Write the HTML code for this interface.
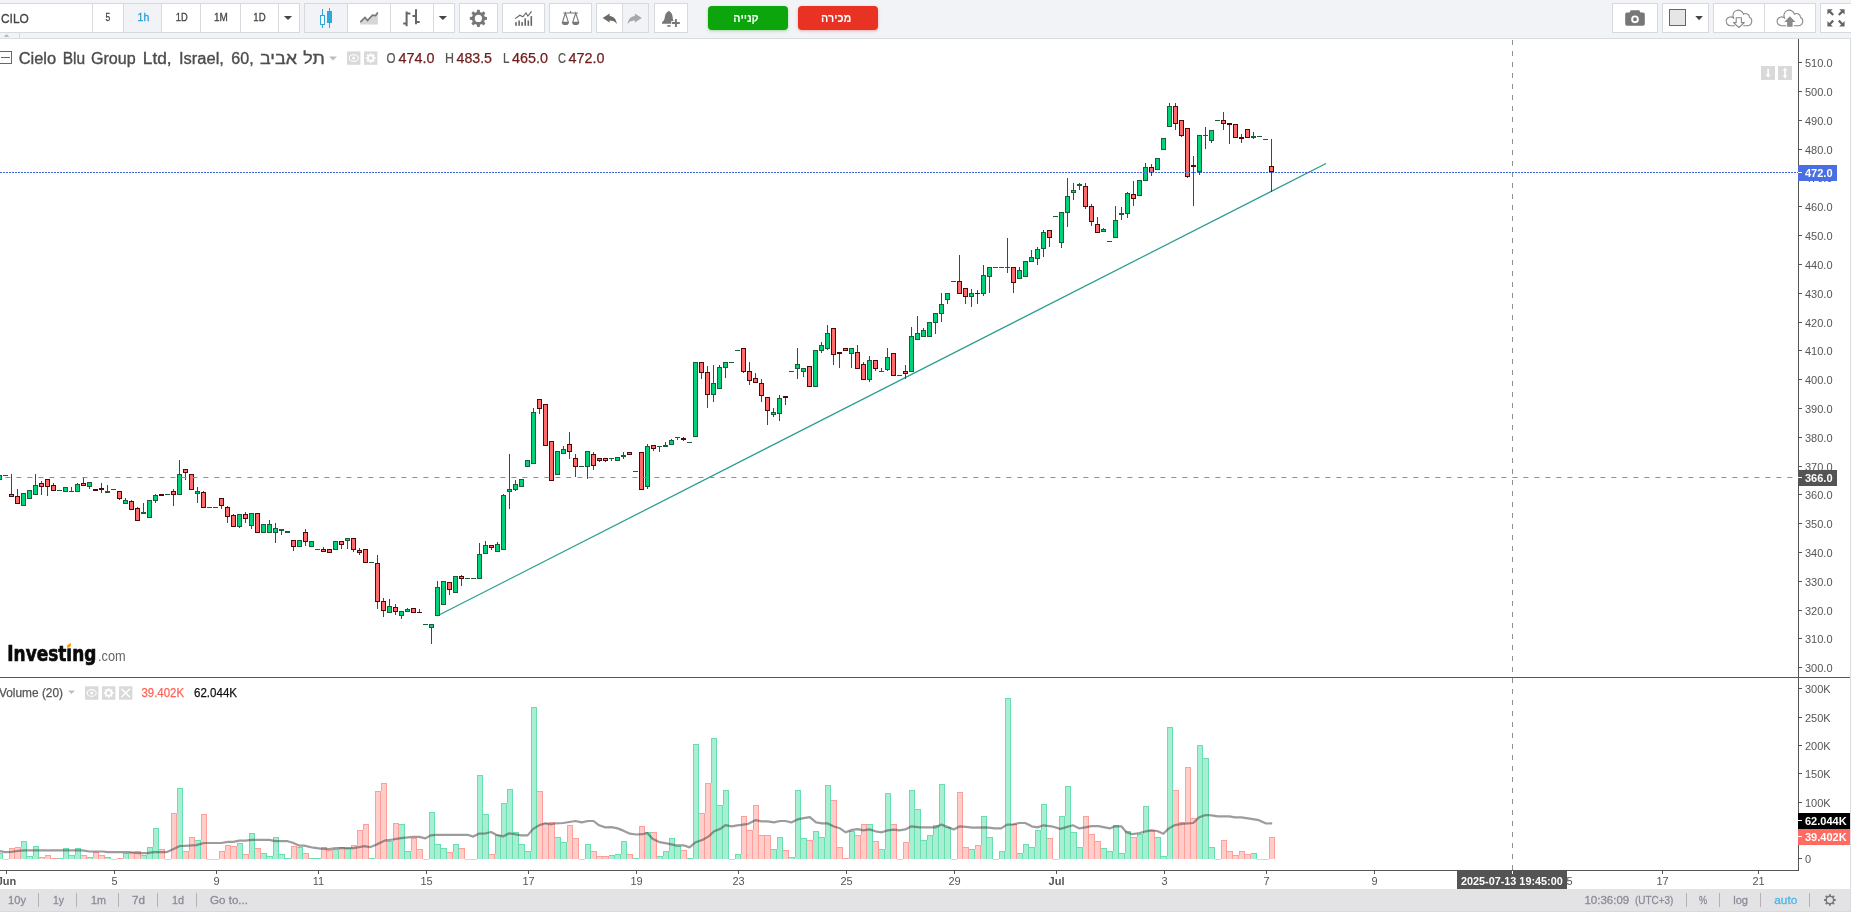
<!DOCTYPE html>
<html lang="he"><head><meta charset="utf-8"><title>CILO</title>
<style>
html,body{margin:0;padding:0;width:1851px;height:912px;overflow:hidden;background:#fff;font-family:"Liberation Sans","DejaVu Sans",sans-serif;}
*{box-sizing:border-box}
.abs{position:absolute}
#tb{position:absolute;left:0;top:0;width:1851px;height:39px;background:#f1f3f6;border-bottom:1px solid #d9dce1}
.btn{position:absolute;top:3px;height:30px;background:#fff;border:1px solid #d6d9de;font-size:12px;color:#4a4a4a;text-align:center;line-height:27px}
.btn.sel{background:#f1f3f6}
.btn svg{position:absolute;left:0;top:0}
.lbl{position:absolute;white-space:nowrap}
#bb{position:absolute;left:0;top:889px;width:1851px;height:23px;background:#e3e3e5}
#bb span{position:absolute;top:4px;font-size:12px;color:#8b8b99;white-space:nowrap;line-height:14px}
#bb i{position:absolute;top:4px;width:1px;height:14px;background:#b2b2b8}
.ib{position:absolute;background:#d9d9d9}
</style></head><body>
<svg width="1851" height="912" viewBox="0 0 1851 912" style="position:absolute;left:0;top:0;will-change:transform" shape-rendering="crispEdges">
<!--AXES-->
<rect x="1798" y="39" width="1" height="832" fill="#555"/>
<rect x="0" y="677" width="1850" height="1" fill="#555"/>
<rect x="0" y="870" width="1799" height="1" fill="#555"/>
<rect x="1850" y="39" width="1" height="850" fill="#d9dce1"/>
<path d="M1799 62h3v1h-3zM1799 91h3v1h-3zM1799 120h3v1h-3zM1799 149h3v1h-3zM1799 177h3v1h-3zM1799 206h3v1h-3zM1799 235h3v1h-3zM1799 264h3v1h-3zM1799 293h3v1h-3zM1799 322h3v1h-3zM1799 350h3v1h-3zM1799 379h3v1h-3zM1799 408h3v1h-3zM1799 437h3v1h-3zM1799 466h3v1h-3zM1799 494h3v1h-3zM1799 523h3v1h-3zM1799 552h3v1h-3zM1799 581h3v1h-3zM1799 610h3v1h-3zM1799 638h3v1h-3zM1799 667h3v1h-3zM1799 688h3v1h-3zM1799 717h3v1h-3zM1799 745h3v1h-3zM1799 773h3v1h-3zM1799 802h3v1h-3zM1799 858h3v1h-3z" fill="#555"/>
<g font-family="Liberation Sans, sans-serif" font-size="11" fill="#555" shape-rendering="auto"><text x="1805" y="66.5">510.0</text><text x="1805" y="95.5">500.0</text><text x="1805" y="124.5">490.0</text><text x="1805" y="153.5">480.0</text><text x="1805" y="181.5">470.0</text><text x="1805" y="210.5">460.0</text><text x="1805" y="239.5">450.0</text><text x="1805" y="268.5">440.0</text><text x="1805" y="297.5">430.0</text><text x="1805" y="326.5">420.0</text><text x="1805" y="354.5">410.0</text><text x="1805" y="383.5">400.0</text><text x="1805" y="412.5">390.0</text><text x="1805" y="441.5">380.0</text><text x="1805" y="470.5">370.0</text><text x="1805" y="498.5">360.0</text><text x="1805" y="527.5">350.0</text><text x="1805" y="556.5">340.0</text><text x="1805" y="585.5">330.0</text><text x="1805" y="614.5">320.0</text><text x="1805" y="642.5">310.0</text><text x="1805" y="671.5">300.0</text><text x="1805" y="692.5">300K</text><text x="1805" y="721.5">250K</text><text x="1805" y="749.5">200K</text><text x="1805" y="777.5">150K</text><text x="1805" y="806.5">100K</text><text x="1805" y="862.5">0</text></g>
<path d="M6 871h1v3h-1zM114 871h1v3h-1zM216 871h1v3h-1zM318 871h1v3h-1zM426 871h1v3h-1zM528 871h1v3h-1zM636 871h1v3h-1zM738 871h1v3h-1zM846 871h1v3h-1zM954 871h1v3h-1zM1056 871h1v3h-1zM1164 871h1v3h-1zM1266 871h1v3h-1zM1374 871h1v3h-1zM1470 871h1v3h-1zM1566 871h1v3h-1zM1662 871h1v3h-1zM1758 871h1v3h-1z" fill="#555"/>
<g font-family="Liberation Sans, sans-serif" font-size="11" fill="#555" shape-rendering="auto"><text x="6.5" y="885" text-anchor="middle" font-weight="bold">Jun</text><text x="114.5" y="885" text-anchor="middle">5</text><text x="216.5" y="885" text-anchor="middle">9</text><text x="318.5" y="885" text-anchor="middle">11</text><text x="426.5" y="885" text-anchor="middle">15</text><text x="528.5" y="885" text-anchor="middle">17</text><text x="636.5" y="885" text-anchor="middle">19</text><text x="738.5" y="885" text-anchor="middle">23</text><text x="846.5" y="885" text-anchor="middle">25</text><text x="954.5" y="885" text-anchor="middle">29</text><text x="1056.5" y="885" text-anchor="middle" font-weight="bold">Jul</text><text x="1164.5" y="885" text-anchor="middle">3</text><text x="1266.5" y="885" text-anchor="middle">7</text><text x="1374.5" y="885" text-anchor="middle">9</text><text x="1470.5" y="885" text-anchor="middle">13</text><text x="1566.5" y="885" text-anchor="middle">15</text><text x="1662.5" y="885" text-anchor="middle">17</text><text x="1758.5" y="885" text-anchor="middle">21</text></g>
<path d="M437 616L1326 163.5" stroke="#2a9d8f" stroke-width="1.25" fill="none" shape-rendering="auto"/>
<path d="M-3 853h6v6h-6zM3 859h6v1h-6zM21 841h6v18h-6zM27 856h6v3h-6zM33 846h6v13h-6zM57 858h6v1h-6zM63 848h6v11h-6zM69 855h6v4h-6zM75 848h6v11h-6zM87 857h6v2h-6zM105 857h6v2h-6zM111 859h6v1h-6zM123 853h6v6h-6zM141 855h6v4h-6zM147 847h6v12h-6zM153 828h6v31h-6zM165 859h6v1h-6zM177 788h6v71h-6zM195 840h6v19h-6zM207 859h6v1h-6zM213 859h6v1h-6zM237 843h6v16h-6zM249 833h6v26h-6zM261 853h6v6h-6zM267 856h6v3h-6zM273 837h6v22h-6zM279 854h6v5h-6zM285 858h6v1h-6zM297 847h6v12h-6zM309 858h6v1h-6zM315 858h6v1h-6zM333 849h6v10h-6zM345 848h6v11h-6zM369 858h6v1h-6zM387 841h6v18h-6zM399 824h6v35h-6zM405 851h6v8h-6zM423 859h6v1h-6zM429 812h6v47h-6zM435 844h6v15h-6zM441 848h6v11h-6zM453 844h6v15h-6zM465 859h6v1h-6zM471 859h6v1h-6zM477 775h6v84h-6zM483 814h6v45h-6zM495 835h6v24h-6zM501 803h6v56h-6zM507 789h6v70h-6zM513 832h6v27h-6zM519 844h6v15h-6zM525 851h6v8h-6zM531 707h6v152h-6zM555 837h6v22h-6zM561 842h6v17h-6zM579 859h6v1h-6zM585 844h6v15h-6zM609 855h6v4h-6zM615 854h6v5h-6zM621 841h6v18h-6zM633 858h6v1h-6zM645 832h6v27h-6zM657 856h6v3h-6zM663 851h6v8h-6zM669 838h6v21h-6zM675 846h6v13h-6zM687 858h6v1h-6zM693 744h6v115h-6zM711 738h6v121h-6zM717 805h6v54h-6zM723 790h6v69h-6zM729 859h6v1h-6zM735 854h6v5h-6zM771 849h6v10h-6zM777 837h6v22h-6zM789 857h6v2h-6zM795 790h6v69h-6zM801 838h6v21h-6zM813 831h6v28h-6zM819 837h6v22h-6zM825 785h6v74h-6zM849 831h6v28h-6zM867 824h6v35h-6zM879 849h6v10h-6zM885 793h6v66h-6zM897 859h6v1h-6zM909 790h6v69h-6zM915 809h6v50h-6zM921 840h6v19h-6zM927 835h6v24h-6zM933 825h6v34h-6zM939 784h6v75h-6zM945 827h6v32h-6zM951 859h6v1h-6zM969 849h6v10h-6zM981 816h6v43h-6zM987 837h6v22h-6zM993 859h6v1h-6zM999 851h6v8h-6zM1005 698h6v161h-6zM1017 853h6v6h-6zM1023 844h6v15h-6zM1029 847h6v12h-6zM1035 830h6v29h-6zM1041 804h6v55h-6zM1053 859h6v1h-6zM1059 816h6v43h-6zM1065 786h6v73h-6zM1071 832h6v27h-6zM1077 847h6v12h-6zM1101 848h6v11h-6zM1107 851h6v8h-6zM1113 825h6v34h-6zM1119 853h6v6h-6zM1125 831h6v28h-6zM1137 834h6v25h-6zM1143 806h6v53h-6zM1155 837h6v22h-6zM1161 856h6v3h-6zM1167 727h6v132h-6zM1197 745h6v114h-6zM1203 758h6v101h-6zM1209 847h6v12h-6zM1215 859h6v1h-6zM1251 853h6v6h-6zM1257 859h6v1h-6zM1263 859h6v1h-6z" fill="#a8eed2"/>
<path d="M9 848h6v11h-6zM15 847h6v12h-6zM39 857h6v2h-6zM45 855h6v4h-6zM51 858h6v1h-6zM81 855h6v4h-6zM93 852h6v7h-6zM99 855h6v4h-6zM117 858h6v1h-6zM129 852h6v7h-6zM135 851h6v8h-6zM159 849h6v10h-6zM171 813h6v46h-6zM183 851h6v8h-6zM189 837h6v22h-6zM201 814h6v45h-6zM219 851h6v8h-6zM225 845h6v14h-6zM231 846h6v13h-6zM243 854h6v5h-6zM255 848h6v11h-6zM291 846h6v13h-6zM303 853h6v6h-6zM321 847h6v12h-6zM327 850h6v9h-6zM339 847h6v12h-6zM351 845h6v14h-6zM357 830h6v29h-6zM363 824h6v35h-6zM375 791h6v68h-6zM381 783h6v76h-6zM393 823h6v36h-6zM411 838h6v21h-6zM417 849h6v10h-6zM447 852h6v7h-6zM459 848h6v11h-6zM489 854h6v5h-6zM537 791h6v68h-6zM543 823h6v36h-6zM549 822h6v37h-6zM567 825h6v34h-6zM573 838h6v21h-6zM591 851h6v8h-6zM597 856h6v3h-6zM603 856h6v3h-6zM627 854h6v5h-6zM639 826h6v33h-6zM651 832h6v27h-6zM681 850h6v9h-6zM699 813h6v46h-6zM705 783h6v76h-6zM741 816h6v43h-6zM747 830h6v29h-6zM753 805h6v54h-6zM759 835h6v24h-6zM765 835h6v24h-6zM783 850h6v9h-6zM807 840h6v19h-6zM831 800h6v59h-6zM837 847h6v12h-6zM843 858h6v1h-6zM855 835h6v24h-6zM861 824h6v35h-6zM873 841h6v18h-6zM891 824h6v35h-6zM903 842h6v17h-6zM957 792h6v67h-6zM963 847h6v12h-6zM975 845h6v14h-6zM1011 824h6v35h-6zM1047 838h6v21h-6zM1083 816h6v43h-6zM1089 834h6v25h-6zM1095 841h6v18h-6zM1131 837h6v22h-6zM1149 830h6v29h-6zM1173 790h6v69h-6zM1179 822h6v37h-6zM1185 767h6v92h-6zM1191 818h6v41h-6zM1221 840h6v19h-6zM1227 851h6v8h-6zM1233 855h6v4h-6zM1239 851h6v8h-6zM1245 854h6v5h-6zM1269 837h6v22h-6z" fill="#ffcdca"/>
<path d="M-3 853h6v1h-6zM2 854h1v5h-1zM-3 854h1v5h-1zM21 841h6v1h-6zM26 842h1v17h-1zM21 842h1v5h-1zM27 856h6v1h-6zM32 857h1v2h-1zM33 846h6v1h-6zM38 847h1v12h-1zM33 847h1v9h-1zM57 858h6v1h-6zM63 848h6v1h-6zM68 849h1v10h-1zM63 849h1v9h-1zM69 855h6v1h-6zM74 856h1v3h-1zM75 848h6v1h-6zM80 849h1v10h-1zM75 849h1v6h-1zM87 857h6v1h-6zM92 858h1v1h-1zM105 857h6v1h-6zM110 858h1v1h-1zM123 853h6v1h-6zM128 854h1v5h-1zM123 854h1v4h-1zM141 855h6v1h-6zM146 856h1v3h-1zM147 847h6v1h-6zM152 848h1v11h-1zM147 848h1v7h-1zM153 828h6v1h-6zM158 829h1v30h-1zM153 829h1v18h-1zM177 788h6v1h-6zM182 789h1v70h-1zM177 789h1v24h-1zM195 840h6v1h-6zM200 841h1v18h-1zM237 843h6v1h-6zM242 844h1v15h-1zM237 844h1v2h-1zM249 833h6v1h-6zM254 834h1v25h-1zM249 834h1v20h-1zM261 853h6v1h-6zM266 854h1v5h-1zM267 856h6v1h-6zM272 857h1v2h-1zM273 837h6v1h-6zM278 838h1v21h-1zM273 838h1v18h-1zM279 854h6v1h-6zM284 855h1v4h-1zM285 858h6v1h-6zM297 847h6v1h-6zM302 848h1v11h-1zM309 858h6v1h-6zM315 858h6v1h-6zM333 849h6v1h-6zM338 850h1v9h-1zM345 848h6v1h-6zM350 849h1v10h-1zM369 858h6v1h-6zM387 841h6v1h-6zM392 842h1v17h-1zM399 824h6v1h-6zM404 825h1v34h-1zM405 851h6v1h-6zM410 852h1v7h-1zM429 812h6v1h-6zM434 813h1v46h-1zM429 813h1v46h-1zM435 844h6v1h-6zM440 845h1v14h-1zM441 848h6v1h-6zM446 849h1v10h-1zM453 844h6v1h-6zM458 845h1v14h-1zM453 845h1v7h-1zM477 775h6v1h-6zM482 776h1v83h-1zM477 776h1v83h-1zM483 814h6v1h-6zM488 815h1v44h-1zM495 835h6v1h-6zM500 836h1v23h-1zM495 836h1v18h-1zM501 803h6v1h-6zM506 804h1v55h-1zM501 804h1v31h-1zM507 789h6v1h-6zM512 790h1v69h-1zM507 790h1v13h-1zM513 832h6v1h-6zM518 833h1v26h-1zM519 844h6v1h-6zM524 845h1v14h-1zM525 851h6v1h-6zM530 852h1v7h-1zM531 707h6v1h-6zM536 708h1v151h-1zM531 708h1v143h-1zM555 837h6v1h-6zM560 838h1v21h-1zM561 842h6v1h-6zM566 843h1v16h-1zM585 844h6v1h-6zM590 845h1v14h-1zM585 845h1v14h-1zM609 855h6v1h-6zM614 856h1v3h-1zM615 854h6v1h-6zM620 855h1v4h-1zM621 841h6v1h-6zM626 842h1v17h-1zM621 842h1v12h-1zM633 858h6v1h-6zM645 832h6v1h-6zM650 833h1v26h-1zM657 856h6v1h-6zM662 857h1v2h-1zM663 851h6v1h-6zM668 852h1v7h-1zM663 852h1v4h-1zM669 838h6v1h-6zM674 839h1v20h-1zM669 839h1v12h-1zM675 846h6v1h-6zM680 847h1v12h-1zM687 858h6v1h-6zM693 744h6v1h-6zM698 745h1v114h-1zM693 745h1v113h-1zM711 738h6v1h-6zM716 739h1v120h-1zM711 739h1v44h-1zM717 805h6v1h-6zM722 806h1v53h-1zM723 790h6v1h-6zM728 791h1v68h-1zM723 791h1v14h-1zM735 854h6v1h-6zM740 855h1v4h-1zM735 855h1v4h-1zM771 849h6v1h-6zM776 850h1v9h-1zM777 837h6v1h-6zM782 838h1v21h-1zM777 838h1v11h-1zM789 857h6v1h-6zM794 858h1v1h-1zM795 790h6v1h-6zM800 791h1v68h-1zM795 791h1v66h-1zM801 838h6v1h-6zM806 839h1v20h-1zM813 831h6v1h-6zM818 832h1v27h-1zM813 832h1v8h-1zM819 837h6v1h-6zM824 838h1v21h-1zM825 785h6v1h-6zM830 786h1v73h-1zM825 786h1v51h-1zM849 831h6v1h-6zM854 832h1v27h-1zM849 832h1v26h-1zM867 824h6v1h-6zM872 825h1v34h-1zM879 849h6v1h-6zM884 850h1v9h-1zM885 793h6v1h-6zM890 794h1v65h-1zM885 794h1v55h-1zM909 790h6v1h-6zM914 791h1v68h-1zM909 791h1v51h-1zM915 809h6v1h-6zM920 810h1v49h-1zM921 840h6v1h-6zM926 841h1v18h-1zM927 835h6v1h-6zM932 836h1v23h-1zM927 836h1v4h-1zM933 825h6v1h-6zM938 826h1v33h-1zM933 826h1v9h-1zM939 784h6v1h-6zM944 785h1v74h-1zM939 785h1v40h-1zM945 827h6v1h-6zM950 828h1v31h-1zM969 849h6v1h-6zM974 850h1v9h-1zM981 816h6v1h-6zM986 817h1v42h-1zM981 817h1v28h-1zM987 837h6v1h-6zM992 838h1v21h-1zM999 851h6v1h-6zM1004 852h1v7h-1zM999 852h1v7h-1zM1005 698h6v1h-6zM1010 699h1v160h-1zM1005 699h1v152h-1zM1017 853h6v1h-6zM1022 854h1v5h-1zM1023 844h6v1h-6zM1028 845h1v14h-1zM1023 845h1v8h-1zM1029 847h6v1h-6zM1034 848h1v11h-1zM1035 830h6v1h-6zM1040 831h1v28h-1zM1035 831h1v16h-1zM1041 804h6v1h-6zM1046 805h1v54h-1zM1041 805h1v25h-1zM1059 816h6v1h-6zM1064 817h1v42h-1zM1059 817h1v42h-1zM1065 786h6v1h-6zM1070 787h1v72h-1zM1065 787h1v29h-1zM1071 832h6v1h-6zM1076 833h1v26h-1zM1077 847h6v1h-6zM1082 848h1v11h-1zM1101 848h6v1h-6zM1106 849h1v10h-1zM1107 851h6v1h-6zM1112 852h1v7h-1zM1113 825h6v1h-6zM1118 826h1v33h-1zM1113 826h1v25h-1zM1119 853h6v1h-6zM1124 854h1v5h-1zM1125 831h6v1h-6zM1130 832h1v27h-1zM1125 832h1v21h-1zM1137 834h6v1h-6zM1142 835h1v24h-1zM1137 835h1v2h-1zM1143 806h6v1h-6zM1148 807h1v52h-1zM1143 807h1v27h-1zM1155 837h6v1h-6zM1160 838h1v21h-1zM1161 856h6v1h-6zM1166 857h1v2h-1zM1167 727h6v1h-6zM1172 728h1v131h-1zM1167 728h1v128h-1zM1197 745h6v1h-6zM1202 746h1v113h-1zM1197 746h1v72h-1zM1203 758h6v1h-6zM1208 759h1v100h-1zM1209 847h6v1h-6zM1214 848h1v11h-1zM1251 853h6v1h-6zM1256 854h1v5h-1z" fill="#68dfae"/>
<path d="M9 848h6v1h-6zM14 849h1v10h-1zM9 849h1v10h-1zM15 847h6v1h-6zM20 848h1v11h-1zM39 857h6v1h-6zM44 858h1v1h-1zM45 855h6v1h-6zM50 856h1v3h-1zM45 856h1v1h-1zM51 858h6v1h-6zM81 855h6v1h-6zM86 856h1v3h-1zM93 852h6v1h-6zM98 853h1v6h-1zM93 853h1v4h-1zM99 855h6v1h-6zM104 856h1v3h-1zM117 858h6v1h-6zM129 852h6v1h-6zM134 853h1v6h-1zM135 851h6v1h-6zM140 852h1v7h-1zM159 849h6v1h-6zM164 850h1v9h-1zM171 813h6v1h-6zM176 814h1v45h-1zM171 814h1v45h-1zM183 851h6v1h-6zM188 852h1v7h-1zM189 837h6v1h-6zM194 838h1v21h-1zM189 838h1v13h-1zM201 814h6v1h-6zM206 815h1v44h-1zM201 815h1v25h-1zM219 851h6v1h-6zM224 852h1v7h-1zM219 852h1v7h-1zM225 845h6v1h-6zM230 846h1v13h-1zM225 846h1v5h-1zM231 846h6v1h-6zM236 847h1v12h-1zM243 854h6v1h-6zM248 855h1v4h-1zM255 848h6v1h-6zM260 849h1v10h-1zM291 846h6v1h-6zM296 847h1v12h-1zM291 847h1v11h-1zM303 853h6v1h-6zM308 854h1v5h-1zM321 847h6v1h-6zM326 848h1v11h-1zM321 848h1v10h-1zM327 850h6v1h-6zM332 851h1v8h-1zM339 847h6v1h-6zM344 848h1v11h-1zM339 848h1v1h-1zM351 845h6v1h-6zM356 846h1v13h-1zM351 846h1v2h-1zM357 830h6v1h-6zM362 831h1v28h-1zM357 831h1v14h-1zM363 824h6v1h-6zM368 825h1v34h-1zM363 825h1v5h-1zM375 791h6v1h-6zM380 792h1v67h-1zM375 792h1v66h-1zM381 783h6v1h-6zM386 784h1v75h-1zM381 784h1v7h-1zM393 823h6v1h-6zM398 824h1v35h-1zM393 824h1v17h-1zM411 838h6v1h-6zM416 839h1v20h-1zM411 839h1v12h-1zM417 849h6v1h-6zM422 850h1v9h-1zM447 852h6v1h-6zM452 853h1v6h-1zM459 848h6v1h-6zM464 849h1v10h-1zM489 854h6v1h-6zM494 855h1v4h-1zM537 791h6v1h-6zM542 792h1v67h-1zM543 823h6v1h-6zM548 824h1v35h-1zM549 822h6v1h-6zM554 823h1v36h-1zM567 825h6v1h-6zM572 826h1v33h-1zM567 826h1v16h-1zM573 838h6v1h-6zM578 839h1v20h-1zM591 851h6v1h-6zM596 852h1v7h-1zM597 856h6v1h-6zM602 857h1v2h-1zM603 856h6v1h-6zM608 857h1v2h-1zM627 854h6v1h-6zM632 855h1v4h-1zM639 826h6v1h-6zM644 827h1v32h-1zM639 827h1v31h-1zM651 832h6v1h-6zM656 833h1v26h-1zM681 850h6v1h-6zM686 851h1v8h-1zM699 813h6v1h-6zM704 814h1v45h-1zM705 783h6v1h-6zM710 784h1v75h-1zM705 784h1v29h-1zM741 816h6v1h-6zM746 817h1v42h-1zM741 817h1v37h-1zM747 830h6v1h-6zM752 831h1v28h-1zM753 805h6v1h-6zM758 806h1v53h-1zM753 806h1v24h-1zM759 835h6v1h-6zM764 836h1v23h-1zM765 835h6v1h-6zM770 836h1v23h-1zM783 850h6v1h-6zM788 851h1v8h-1zM807 840h6v1h-6zM812 841h1v18h-1zM831 800h6v1h-6zM836 801h1v58h-1zM837 847h6v1h-6zM842 848h1v11h-1zM843 858h6v1h-6zM855 835h6v1h-6zM860 836h1v23h-1zM861 824h6v1h-6zM866 825h1v34h-1zM861 825h1v10h-1zM873 841h6v1h-6zM878 842h1v17h-1zM891 824h6v1h-6zM896 825h1v34h-1zM903 842h6v1h-6zM908 843h1v16h-1zM903 843h1v16h-1zM957 792h6v1h-6zM962 793h1v66h-1zM957 793h1v66h-1zM963 847h6v1h-6zM968 848h1v11h-1zM975 845h6v1h-6zM980 846h1v13h-1zM975 846h1v3h-1zM1011 824h6v1h-6zM1016 825h1v34h-1zM1047 838h6v1h-6zM1052 839h1v20h-1zM1083 816h6v1h-6zM1088 817h1v42h-1zM1083 817h1v30h-1zM1089 834h6v1h-6zM1094 835h1v24h-1zM1095 841h6v1h-6zM1100 842h1v17h-1zM1131 837h6v1h-6zM1136 838h1v21h-1zM1149 830h6v1h-6zM1154 831h1v28h-1zM1173 790h6v1h-6zM1178 791h1v68h-1zM1179 822h6v1h-6zM1184 823h1v36h-1zM1185 767h6v1h-6zM1190 768h1v91h-1zM1185 768h1v54h-1zM1191 818h6v1h-6zM1196 819h1v40h-1zM1221 840h6v1h-6zM1226 841h1v18h-1zM1221 841h1v18h-1zM1227 851h6v1h-6zM1232 852h1v7h-1zM1233 855h6v1h-6zM1238 856h1v3h-1zM1239 851h6v1h-6zM1244 852h1v7h-1zM1239 852h1v3h-1zM1245 854h6v1h-6zM1250 855h1v4h-1zM1269 837h6v1h-6zM1274 838h1v21h-1zM1269 838h1v21h-1z" fill="#ff9f99"/>
<path d="M0.0 851.2 L5.1 852.2 L10.3 852.0 L20.5 850.7 L25.7 850.3 L82.1 850.3 L89.3 851.5 L102.7 851.5 L107.8 852.2 L128.3 852.2 L138.6 853.2 L146.8 853.2 L154.0 852.2 L166.3 852.2 L172.5 849.4 L179.7 846.0 L184.8 845.8 L196.3 845.1 L204.0 843.0 L220.9 843.0 L228.1 841.9 L233.3 841.9 L239.4 840.7 L245.6 840.7 L251.7 839.9 L269.2 839.9 L275.3 841.2 L287.7 841.2 L292.8 842.8 L299.0 845.6 L304.1 845.6 L313.3 847.7 L320.5 848.7 L328.7 849.1 L335.9 848.1 L353.4 848.1 L364.7 846.1 L369.8 847.2 L376.2 844.8 L384.4 840.7 L392.6 839.5 L400.8 838.1 L413.1 836.9 L419.3 836.9 L425.4 838.4 L430.6 835.4 L435.7 834.8 L467.5 834.8 L473.2 836.6 L478.8 833.7 L486.0 833.3 L491.1 832.0 L496.3 834.8 L503.0 836.4 L509.1 833.3 L513.7 834.0 L520.9 835.4 L527.6 835.4 L533.2 828.9 L539.4 825.1 L545.6 823.3 L551.7 824.3 L554.8 823.5 L563.2 823.0 L575.5 821.0 L581.7 822.4 L587.9 821.0 L593.5 821.0 L599.1 825.3 L605.3 827.4 L611.5 827.2 L617.6 828.4 L622.8 830.4 L629.9 833.7 L636.1 834.5 L642.3 834.2 L647.4 833.0 L652.5 838.7 L659.7 842.2 L667.9 843.6 L676.1 845.3 L683.3 845.3 L689.5 847.4 L695.7 842.2 L702.8 839.7 L709.0 836.1 L714.1 831.3 L720.3 828.9 L725.4 825.1 L731.6 826.3 L738.8 825.1 L740.0 825.1 L748.2 823.8 L755.4 820.2 L761.6 821.4 L767.7 821.4 L773.9 822.4 L780.0 821.0 L785.2 821.0 L791.3 822.4 L797.5 819.4 L803.7 818.1 L809.8 817.1 L816.0 822.4 L822.1 823.3 L827.3 823.3 L833.4 826.3 L839.6 828.2 L845.7 832.3 L851.9 829.9 L858.1 829.1 L863.2 830.4 L869.4 829.4 L875.5 831.3 L881.7 832.3 L887.8 830.4 L894.0 829.6 L899.1 830.4 L905.3 829.4 L911.5 826.3 L919.7 827.4 L924.8 827.4 L935.3 827.4 L941.4 824.6 L948.6 827.4 L953.7 829.4 L959.9 826.3 L966.1 826.8 L972.2 827.6 L986.6 827.4 L994.8 828.4 L1001.0 828.4 L1007.1 824.6 L1013.3 824.3 L1019.5 823.0 L1025.1 823.0 L1031.8 826.3 L1037.4 827.4 L1043.6 825.3 L1051.3 826.3 L1060.5 828.9 L1072.8 825.3 L1079.5 828.4 L1085.2 827.4 L1091.3 826.1 L1098.5 826.1 L1109.8 828.4 L1115.1 826.3 L1121.3 826.3 L1126.4 832.3 L1132.6 834.2 L1139.8 833.0 L1145.9 831.3 L1151.1 830.4 L1157.2 831.0 L1163.4 833.7 L1168.5 828.6 L1174.7 825.1 L1181.9 823.8 L1193.2 823.0 L1199.3 817.3 L1205.5 815.0 L1211.6 815.3 L1217.8 816.4 L1229.1 816.4 L1235.3 817.3 L1241.4 817.3 L1249.6 818.6 L1258.9 820.2 L1266.1 823.5 L1272.2 823.3" stroke="#4a4a4a" stroke-opacity="0.55" stroke-width="2.2" fill="none" stroke-linejoin="round" shape-rendering="auto"/>
<path d="M11.5 474V497M17.5 489V504M35.5 474V495M41.5 481V495M47.5 479V496M53.5 483V491M71.5 487V492M77.5 483V492M83.5 477V486M89.5 482V489M101.5 483V493M107.5 485V493M119.5 491V500M125.5 498V504M131.5 500V510M137.5 507V521M143.5 503V514M155.5 494V503M173.5 489V506M179.5 460V495M185.5 469V480M197.5 487V503M203.5 491V508M221.5 498V509M227.5 506V523M233.5 514V527M239.5 514V528M245.5 512V523M251.5 513V529M269.5 520V533M275.5 523V543M281.5 529V535M293.5 540V551M305.5 529V546M323.5 547V552M341.5 541V549M347.5 538V549M353.5 538V552M359.5 548V555M377.5 555V609M383.5 598V617M389.5 599V613M395.5 604V615M401.5 611V619M407.5 608V612M419.5 609V613M431.5 624V644M437.5 581V616M449.5 582V595M461.5 575V586M479.5 543V579M485.5 541V554M491.5 545V550M497.5 542V552M503.5 494V550M509.5 454V509M515.5 480V491M533.5 408V464M539.5 399V414M563.5 446V454M569.5 432V459M575.5 454V477M587.5 451V479M593.5 452V470M599.5 458V462M605.5 458V462M611.5 458V461M623.5 452V459M647.5 444V489M653.5 445V451M659.5 446V452M665.5 442V447M671.5 439V445M677.5 437V440M683.5 437V441M701.5 362V379M707.5 366V408M713.5 365V402M719.5 365V389M725.5 362V378M743.5 348V373M749.5 362V385M755.5 373V383M761.5 379V402M767.5 397V425M773.5 408V417M779.5 395V421M785.5 396V405M797.5 348V379M803.5 368V377M821.5 342V353M827.5 325V350M833.5 328V365M839.5 352V368M851.5 348V368M857.5 345V369M863.5 362V380M869.5 356V382M875.5 360V371M881.5 368V372M887.5 348V371M905.5 365V379M911.5 327V372M917.5 316V340M923.5 328V337M935.5 313V334M941.5 293V322M947.5 293V304M959.5 255V294M965.5 288V304M971.5 289V307M977.5 290V304M983.5 265V296M989.5 267V293M1007.5 238V273M1013.5 267V293M1019.5 267V279M1031.5 250V262M1037.5 247V265M1043.5 230V257M1049.5 230V247M1061.5 212V248M1067.5 178V227M1073.5 183V200M1079.5 183V190M1085.5 183V209M1091.5 204V226M1097.5 217V233M1103.5 228V232M1115.5 206V238M1121.5 207V220M1127.5 192V218M1133.5 181V206M1145.5 163V181M1151.5 164V176M1169.5 103V127M1175.5 103V130M1181.5 120V137M1187.5 128V178M1193.5 156V206M1199.5 135V175M1205.5 127V149M1211.5 130V143M1223.5 112V130M1229.5 123V144M1241.5 134V143M1253.5 132V139M1271.5 139V192" stroke="#1d5c38" stroke-width="1" fill="none"/>
<path d="M-3 475h5v5h-5zM3 475h5v1h-5zM21 493h5v13h-5zM27 490h5v9h-5zM33 485h5v10h-5zM57 490h5v1h-5zM63 487h5v5h-5zM69 491h5v1h-5zM75 484h5v8h-5zM87 482h5v5h-5zM105 491h5v2h-5zM111 489h5v1h-5zM123 500h5v4h-5zM141 512h5v2h-5zM147 500h5v18h-5zM153 495h5v6h-5zM165 494h5v1h-5zM177 474h5v21h-5zM195 491h5v3h-5zM207 507h5v1h-5zM213 507h5v1h-5zM237 514h5v13h-5zM249 513h5v13h-5zM261 524h5v9h-5zM267 524h5v9h-5zM273 528h5v5h-5zM279 529h5v2h-5zM285 531h5v2h-5zM297 540h5v7h-5zM309 541h5v6h-5zM315 549h5v1h-5zM333 541h5v9h-5zM345 538h5v3h-5zM369 562h5v1h-5zM387 606h5v7h-5zM399 611h5v5h-5zM405 609h5v3h-5zM423 624h5v1h-5zM429 624h5v4h-5zM435 587h5v29h-5zM441 581h5v24h-5zM453 576h5v17h-5zM465 578h5v1h-5zM471 578h5v1h-5zM477 554h5v25h-5zM483 545h5v9h-5zM495 544h5v8h-5zM501 495h5v55h-5zM507 489h5v3h-5zM513 484h5v6h-5zM519 479h5v8h-5zM525 460h5v7h-5zM531 412h5v52h-5zM555 451h5v24h-5zM561 449h5v5h-5zM579 466h5v1h-5zM585 451h5v16h-5zM609 458h5v1h-5zM615 457h5v4h-5zM621 455h5v2h-5zM633 471h5v1h-5zM645 446h5v41h-5zM657 446h5v1h-5zM663 445h5v2h-5zM669 440h5v5h-5zM675 437h5v1h-5zM687 442h5v1h-5zM693 362h5v75h-5zM711 383h5v12h-5zM717 367h5v22h-5zM723 362h5v6h-5zM729 362h5v1h-5zM735 350h5v1h-5zM771 412h5v3h-5zM777 398h5v16h-5zM789 371h5v1h-5zM795 364h5v5h-5zM801 368h5v4h-5zM813 350h5v37h-5zM819 345h5v6h-5zM825 333h5v16h-5zM849 348h5v6h-5zM867 360h5v20h-5zM879 371h5v1h-5zM885 357h5v13h-5zM897 375h5v1h-5zM909 336h5v36h-5zM915 333h5v7h-5zM921 330h5v7h-5zM927 322h5v15h-5zM933 313h5v10h-5zM939 304h5v10h-5zM945 293h5v7h-5zM951 281h5v1h-5zM969 293h5v4h-5zM981 275h5v19h-5zM987 267h5v10h-5zM993 267h5v1h-5zM999 267h5v1h-5zM1005 267h5v1h-5zM1017 270h5v9h-5zM1023 261h5v16h-5zM1029 257h5v5h-5zM1035 249h5v10h-5zM1041 232h5v17h-5zM1053 216h5v1h-5zM1059 212h5v31h-5zM1065 196h5v17h-5zM1071 190h5v3h-5zM1077 184h5v2h-5zM1101 229h5v3h-5zM1107 241h5v1h-5zM1113 220h5v18h-5zM1119 213h5v2h-5zM1125 193h5v21h-5zM1137 180h5v16h-5zM1143 167h5v14h-5zM1155 158h5v12h-5zM1161 138h5v12h-5zM1167 106h5v21h-5zM1197 135h5v37h-5zM1203 135h5v1h-5zM1209 130h5v11h-5zM1215 120h5v1h-5zM1251 136h5v2h-5zM1257 136h5v1h-5zM1263 139h5v1h-5z" fill="#1d5c38"/>
<path d="M9 494h5v3h-5zM15 496h5v8h-5zM39 483h5v4h-5zM45 479h5v8h-5zM51 485h5v6h-5zM81 483h5v3h-5zM93 489h5v2h-5zM99 488h5v2h-5zM117 491h5v8h-5zM129 501h5v9h-5zM135 508h5v13h-5zM159 494h5v2h-5zM171 491h5v4h-5zM183 469h5v4h-5zM189 474h5v16h-5zM201 492h5v16h-5zM219 498h5v8h-5zM225 507h5v10h-5zM231 515h5v12h-5zM243 514h5v5h-5zM255 513h5v20h-5zM291 540h5v7h-5zM303 532h5v10h-5zM321 549h5v3h-5zM327 549h5v4h-5zM339 541h5v4h-5zM351 538h5v12h-5zM357 550h5v3h-5zM363 549h5v14h-5zM375 563h5v39h-5zM381 601h5v10h-5zM393 607h5v5h-5zM411 608h5v5h-5zM417 612h5v1h-5zM447 582h5v8h-5zM459 576h5v3h-5zM489 545h5v3h-5zM537 399h5v10h-5zM543 404h5v42h-5zM549 441h5v40h-5zM567 444h5v8h-5zM573 458h5v9h-5zM591 454h5v12h-5zM597 458h5v3h-5zM603 458h5v3h-5zM627 452h5v3h-5zM639 452h5v38h-5zM651 445h5v4h-5zM681 438h5v2h-5zM699 362h5v11h-5zM705 372h5v23h-5zM741 348h5v24h-5zM747 371h5v10h-5zM753 378h5v5h-5zM759 383h5v13h-5zM765 397h5v14h-5zM783 396h5v2h-5zM807 366h5v21h-5zM831 328h5v27h-5zM837 352h5v2h-5zM843 348h5v3h-5zM855 352h5v17h-5zM861 364h5v16h-5zM873 360h5v9h-5zM891 353h5v23h-5zM903 371h5v3h-5zM957 281h5v13h-5zM963 288h5v9h-5zM975 293h5v1h-5zM1011 267h5v16h-5zM1047 230h5v8h-5zM1083 186h5v21h-5zM1089 206h5v16h-5zM1095 224h5v9h-5zM1131 194h5v5h-5zM1149 167h5v6h-5zM1173 106h5v18h-5zM1179 120h5v16h-5zM1185 128h5v49h-5zM1191 165h5v2h-5zM1221 120h5v4h-5zM1227 123h5v2h-5zM1233 124h5v14h-5zM1239 137h5v2h-5zM1245 129h5v9h-5zM1269 166h5v6h-5z" fill="#520808"/>
<path d="M-2 476h3v3h-3zM22 494h3v11h-3zM28 491h3v7h-3zM34 486h3v8h-3zM64 488h3v3h-3zM76 485h3v6h-3zM88 483h3v3h-3zM124 501h3v2h-3zM148 501h3v16h-3zM154 496h3v4h-3zM178 475h3v19h-3zM196 492h3v1h-3zM238 515h3v11h-3zM250 514h3v11h-3zM262 525h3v7h-3zM268 525h3v7h-3zM274 529h3v3h-3zM298 541h3v5h-3zM310 542h3v4h-3zM334 542h3v7h-3zM346 539h3v1h-3zM388 607h3v5h-3zM400 612h3v3h-3zM406 610h3v1h-3zM430 625h3v2h-3zM436 588h3v27h-3zM442 582h3v22h-3zM454 577h3v15h-3zM478 555h3v23h-3zM484 546h3v7h-3zM496 545h3v6h-3zM502 496h3v53h-3zM508 490h3v1h-3zM514 485h3v4h-3zM520 480h3v6h-3zM526 461h3v5h-3zM532 413h3v50h-3zM556 452h3v22h-3zM562 450h3v3h-3zM586 452h3v14h-3zM616 458h3v2h-3zM646 447h3v39h-3zM670 441h3v3h-3zM694 363h3v73h-3zM712 384h3v10h-3zM718 368h3v20h-3zM724 363h3v4h-3zM772 413h3v1h-3zM778 399h3v14h-3zM796 365h3v3h-3zM802 369h3v2h-3zM814 351h3v35h-3zM820 346h3v4h-3zM826 334h3v14h-3zM850 349h3v4h-3zM868 361h3v18h-3zM886 358h3v11h-3zM910 337h3v34h-3zM916 334h3v5h-3zM922 331h3v5h-3zM928 323h3v13h-3zM934 314h3v8h-3zM940 305h3v8h-3zM946 294h3v5h-3zM970 294h3v2h-3zM982 276h3v17h-3zM988 268h3v8h-3zM1018 271h3v7h-3zM1024 262h3v14h-3zM1030 258h3v3h-3zM1036 250h3v8h-3zM1042 233h3v15h-3zM1060 213h3v29h-3zM1066 197h3v15h-3zM1072 191h3v1h-3zM1102 230h3v1h-3zM1114 221h3v16h-3zM1126 194h3v19h-3zM1138 181h3v14h-3zM1144 168h3v12h-3zM1156 159h3v10h-3zM1162 139h3v10h-3zM1168 107h3v19h-3zM1198 136h3v35h-3zM1210 131h3v9h-3z" fill="#00d27a"/>
<path d="M10 495h3v1h-3zM16 497h3v6h-3zM40 484h3v2h-3zM46 480h3v6h-3zM52 486h3v4h-3zM82 484h3v1h-3zM118 492h3v6h-3zM130 502h3v7h-3zM136 509h3v11h-3zM172 492h3v2h-3zM184 470h3v2h-3zM190 475h3v14h-3zM202 493h3v14h-3zM220 499h3v6h-3zM226 508h3v8h-3zM232 516h3v10h-3zM244 515h3v3h-3zM256 514h3v18h-3zM292 541h3v5h-3zM304 533h3v8h-3zM322 550h3v1h-3zM328 550h3v2h-3zM340 542h3v2h-3zM352 539h3v10h-3zM358 551h3v1h-3zM364 550h3v12h-3zM376 564h3v37h-3zM382 602h3v8h-3zM394 608h3v3h-3zM412 609h3v3h-3zM448 583h3v6h-3zM460 577h3v1h-3zM490 546h3v1h-3zM538 400h3v8h-3zM544 405h3v40h-3zM550 442h3v38h-3zM568 445h3v6h-3zM574 459h3v7h-3zM592 455h3v10h-3zM598 459h3v1h-3zM604 459h3v1h-3zM628 453h3v1h-3zM640 453h3v36h-3zM652 446h3v2h-3zM700 363h3v9h-3zM706 373h3v21h-3zM742 349h3v22h-3zM748 372h3v8h-3zM754 379h3v3h-3zM760 384h3v11h-3zM766 398h3v12h-3zM808 367h3v19h-3zM832 329h3v25h-3zM844 349h3v1h-3zM856 353h3v15h-3zM862 365h3v14h-3zM874 361h3v7h-3zM892 354h3v21h-3zM904 372h3v1h-3zM958 282h3v11h-3zM964 289h3v7h-3zM1012 268h3v14h-3zM1048 231h3v6h-3zM1084 187h3v19h-3zM1090 207h3v14h-3zM1096 225h3v7h-3zM1132 195h3v3h-3zM1150 168h3v4h-3zM1174 107h3v16h-3zM1180 121h3v14h-3zM1186 129h3v47h-3zM1222 121h3v2h-3zM1234 125h3v12h-3zM1246 130h3v7h-3zM1270 167h3v4h-3z" fill="#ff6b6b"/>
<path d="M0 477.5H1798" stroke="#8f8f8f" stroke-width="1" stroke-dasharray="5 6" stroke-dashoffset="5.6" fill="none" shape-rendering="geometricPrecision"/>
<path d="M1512.5 40V870" stroke="#8f8f8f" stroke-width="1" stroke-dasharray="5 6" fill="none"/>
<path d="M0 172.5H1798" stroke="#3d68d8" stroke-width="1" stroke-dasharray="2 1" fill="none"/>
<!--EXTRA-->
</svg>
<div id="tb">
<div class="btn " style="left:-1px;width:94px;"></div>
<div class="btn " style="left:92px;width:32px;"></div>
<div class="btn sel" style="left:123px;width:39px;color:#2a9fd8;"></div>
<div class="btn " style="left:161px;width:40px;"></div>
<div class="btn " style="left:200px;width:41px;"></div>
<div class="btn " style="left:240px;width:39px;"></div>
<div class="btn " style="left:278px;width:22px;"></div>
<div class="btn sel" style="left:304px;width:44px;"></div>
<div class="btn " style="left:347px;width:44px;"></div>
<div class="btn " style="left:390px;width:44px;"></div>
<div class="btn " style="left:433px;width:22px;"></div>
<div class="btn " style="left:459px;width:39px;"></div>
<div class="btn " style="left:502px;width:43px;"></div>
<div class="btn " style="left:549px;width:43px;"></div>
<div class="btn " style="left:596px;width:27px;"></div>
<div class="btn sel" style="left:622px;width:27px;"></div>
<div class="btn " style="left:654px;width:34px;"></div>
<div class="btn " style="left:1612px;width:46px;"></div>
<div class="btn " style="left:1662px;width:47px;"></div>
<div class="btn " style="left:1713px;width:52px;"></div>
<div class="btn " style="left:1764px;width:52px;"></div>
<div class="btn " style="left:1820px;width:33px;"></div>
<div class="abs" style="left:708px;top:6px;width:80px;height:24px;border-radius:4px;background:#0ca50c;box-shadow:0 1px 3px rgba(12,165,12,.35);color:#fff;font-weight:bold;font-size:12px;text-align:center;line-height:23px"></div>
<div class="abs" style="left:798px;top:6px;width:80px;height:24px;border-radius:4px;background:#e83223;box-shadow:0 1px 3px rgba(232,50,35,.35);color:#fff;font-weight:bold;font-size:12px;text-align:center;line-height:23px"></div>
<div class="abs" style="left:-1px;top:33px;width:21px;height:6px;border-right:1px solid #d6d9de;"></div>
</div>
<div id="bb">
<i style="left:38px"></i>
<i style="left:76px"></i>
<i style="left:118px"></i>
<i style="left:157px"></i>
<i style="left:196px"></i>

<i style="left:1686px"></i>
<i style="left:1719px"></i>
<i style="left:1760px"></i>
<i style="left:1809px"></i>
<div class="abs" style="left:0;top:22px;width:1851px;height:1px;background:#d6d9dd"></div><div class="abs" style="left:1850px;top:0;width:1px;height:23px;background:#d6d9dd"></div>
</div>
<div style="position:absolute;left:0;top:0;width:1851px;height:912px;will-change:transform;pointer-events:none"><div class="abs" style="left:1798px;top:165px;width:39px;height:16px;background:#4a6fe3;color:#fff;font-weight:bold;font-size:11px;line-height:16px;padding-left:7px;white-space:nowrap">472.0</div>
<div class="abs" style="left:1798px;top:172px;width:4px;height:1px;background:#fff"></div>
<div class="abs" style="left:1798px;top:470px;width:39px;height:16px;background:#545454;color:#fff;font-weight:bold;font-size:11px;line-height:16px;padding-left:7px;white-space:nowrap">366.0</div>
<div class="abs" style="left:1798px;top:477px;width:4px;height:1px;background:#fff"></div>
<div class="abs" style="left:1798px;top:813px;width:52px;height:16px;background:#000;color:#fff;font-weight:bold;font-size:11px;line-height:16px;padding-left:7px;white-space:nowrap">62.044K</div>
<div class="abs" style="left:1798px;top:820px;width:4px;height:1px;background:#fff"></div>
<div class="abs" style="left:1798px;top:829px;width:52px;height:16px;background:#ff6a61;color:#fff;font-weight:bold;font-size:11px;line-height:16px;padding-left:7px;white-space:nowrap">39.402K</div>
<div class="abs" style="left:1798px;top:836px;width:4px;height:1px;background:#fff"></div></div>
<svg width="1851" height="912" viewBox="0 0 1851 912" style="position:absolute;left:0;top:0;pointer-events:none">
<path d="M3.8 37L6.5 34L9.2 37Z" fill="#b9b9b9"/>
<g shape-rendering="crispEdges"><rect x="322" y="9" width="1" height="19" fill="#2fa8e0"/><rect x="320.5" y="15.5" width="4" height="9" fill="#fff" stroke="#2fa8e0"/><rect x="329" y="8" width="1" height="20" fill="#2fa8e0"/><rect x="327" y="11" width="5" height="12" fill="#2fa8e0"/></g>
<path d="M360.3 22.1L365 17.4L367.5 20.5L372.5 15.2L375.6 15.5L377.8 12.4V24.5H360.3Z" fill="#d6d6d6"/>
<path d="M360.3 22.1L365 17.4L367.5 20.5L372.5 15.2L375.6 15.5L377.8 12.4" fill="none" stroke="#777" stroke-width="1.7"/>
<path d="M406.6 11.4V26.3M403.2 23.6H406.6M406.6 13.4H410.4M416 9.3V24.2M412.5 16.1H416M416 22.1H419.7" fill="none" stroke="#666" stroke-width="2"/>
<path d="M283.9 15.9H292.1L288 20Z" fill="#444"/>
<path d="M438.7 15.9H447L442.85 20Z" fill="#444"/>
<path d="M476.86 11.98L477.04 9.81L479.76 9.81L479.94 11.98L481.85 12.77L483.51 11.36L485.44 13.29L484.03 14.95L484.82 16.86L486.99 17.04L486.99 19.76L484.82 19.94L484.03 21.85L485.44 23.51L483.51 25.44L481.85 24.03L479.94 24.82L479.76 26.99L477.04 26.99L476.86 24.82L474.95 24.03L473.29 25.44L471.36 23.51L472.77 21.85L471.98 19.94L469.81 19.76L469.81 17.04L471.98 16.86L472.77 14.95L471.36 13.29L473.29 11.36L474.95 12.77ZM474.80 18.40a3.6 3.6 0 1 0 7.2 0a3.6 3.6 0 1 0 -7.2 0Z" fill="#777" fill-rule="evenodd"/>
<rect x="515.2" y="22.1" width="1.6" height="3.7" fill="#666"/>
<rect x="518.3" y="20.5" width="1.6" height="5.3" fill="#666"/>
<rect x="521.3" y="22.1" width="1.6" height="3.7" fill="#666"/>
<rect x="524.4" y="18.4" width="1.6" height="7.4" fill="#666"/>
<rect x="527.5" y="20.5" width="1.6" height="5.3" fill="#666"/>
<rect x="530.5" y="16.1" width="1.6" height="9.7" fill="#666"/>
<path d="M515.2 18.6L519.8 15.2L522.9 16.8L526 13L527.9 16.1L531.6 11.4" fill="none" stroke="#666" stroke-width="1.1"/>
<g fill="none" stroke="#777" stroke-width="1.1"><path d="M563.3 13H578M570.5 13V11.3M565.4 13L562.4 22.4H568.4ZM575.7 13L572.7 22.4H578.7Z"/></g>
<path d="M562 22.4H568.8A3.4 2.6 0 0 1 562 22.4ZM572.3 22.4H579.1A3.4 2.6 0 0 1 572.3 22.4Z" fill="#777"/>
<path d="M569.3 12.6L570.5 11L571.7 12.6Z" fill="#777"/>
<path d="M602.7 18L609.6 13.6L609.6 16C613.6 16.2 616.2 19 616.9 24C614.8 21.3 612.9 20.5 609.6 20.5L609.6 22.6Z" fill="#6a6a6a"/>
<path d="M641.8 18L634.9 13.6L634.9 16C630.9 16.2 628.3 19 627.6 24C629.7 21.3 631.6 20.5 634.9 20.5L634.9 22.6Z" fill="#a8a8a8"/>
<path d="M668.9 10.8C670.3 11.8 672.4 13.4 672.6 16.6C672.8 19.6 673.2 21 674.8 22.2V23.8H662V22.2C663.8 21 664.6 19.6 664.9 16.6C665.2 13.4 667.5 11.8 668.9 10.8Z" fill="#777"/>
<path d="M666.8 25.2H671A2.1 1.8 0 0 1 666.8 25.2Z" fill="#777"/>
<path d="M675.9 18.4V27.6M671.3 23H680.5" stroke="#fff" stroke-width="3.8" fill="none"/>
<path d="M675.9 19.1V26.9M672 23H679.8" stroke="#777" stroke-width="1.9" fill="none"/>
<path d="M1627 12.5H1629.5L1630.8 10.2H1639.2L1640.5 12.5H1643A1.8 1.8 0 0 1 1644.8 14.3V24A1.8 1.8 0 0 1 1643 25.8H1627A1.8 1.8 0 0 1 1625.2 24V14.3A1.8 1.8 0 0 1 1627 12.5Z" fill="#777"/>
<circle cx="1635" cy="19.3" r="2.9" fill="none" stroke="#fff" stroke-width="1.9"/>
<rect x="1669.5" y="9.5" width="16" height="16" fill="#e6e6e6" stroke="#666" stroke-width="1" shape-rendering="crispEdges"/>
<path d="M1695.3 16H1702.9L1699.1 20.2Z" fill="#444"/>
<path d="M1730.5 25.7A4.4 4.4 0 1 1 1734.0 18.6A5.3 5.3 0 1 1 1743.4 14.2A3.9 3.9 0 0 1 1749.5 17.3A4.5 4.5 0 0 1 1747.2 25.7H1743.3M1730.5 25.7H1734.8" fill="none" stroke="#888" stroke-width="1.1"/>
<path d="M1736.2 17.7H1741.4V22.6H1744.3L1738.9 27.5L1733.5 22.6H1736.2Z" fill="#fff" stroke="#888" stroke-width="1.1" stroke-linejoin="round"/>
<path d="M1781.5 25.7A4.4 4.4 0 1 1 1785.0 18.6A5.3 5.3 0 1 1 1794.4 14.2A3.9 3.9 0 0 1 1800.5 17.3A4.5 4.5 0 0 1 1798.2 25.7H1793.8M1781.5 25.7H1786.2" fill="none" stroke="#888" stroke-width="1.1"/>
<path d="M1789.85 16.2L1795.4 21.9H1792.6V26.8H1787.1V21.9H1784.3Z" fill="#8a8a8a"/>
<path d="M1827.4 9.200000000000001L1832.8000000000002 9.200000000000001L1830.9 11.100000000000001L1834.0 14.200000000000001L1832.4 15.8L1829.3000000000002 12.700000000000001L1827.4 14.600000000000001ZM1844.6 9.200000000000001L1839.1999999999998 9.200000000000001L1841.1 11.100000000000001L1838.0 14.200000000000001L1839.6 15.8L1842.6999999999998 12.700000000000001L1844.6 14.600000000000001ZM1827.4 26.4L1832.8000000000002 26.4L1830.9 24.5L1834.0 21.4L1832.4 19.799999999999997L1829.3000000000002 22.9L1827.4 21.0ZM1844.6 26.4L1839.1999999999998 26.4L1841.1 24.5L1838.0 21.4L1839.6 19.799999999999997L1842.6999999999998 22.9L1844.6 21.0Z" fill="#666"/>
<g shape-rendering="crispEdges"><rect x="-0.5" y="51.5" width="12" height="12" fill="#fff" stroke="#666"/><rect x="1" y="57" width="9" height="1" fill="#666"/></g>
<path d="M329 56.6H337L333 60.4Z" fill="#bdbdbd"/>
<path d="M68 690.4H75L71.5 694Z" fill="#bdbdbd"/>
<rect x="347" y="51.4" width="13.4" height="13.4" fill="#d9d9d9"/>
<ellipse cx="353.7" cy="58.1" rx="4.5" ry="3.4" fill="none" stroke="#fff" stroke-width="1.1"/><circle cx="353.7" cy="58.1" r="1.5" fill="#fff"/>
<rect x="364" y="51.4" width="13.4" height="13.4" fill="#d9d9d9"/>
<path d="M369.81 54.40L369.92 53.16L371.48 53.16L371.59 54.40L372.69 54.86L373.64 54.05L374.75 55.16L373.94 56.11L374.40 57.21L375.64 57.32L375.64 58.88L374.40 58.99L373.94 60.09L374.75 61.04L373.64 62.15L372.69 61.34L371.59 61.80L371.48 63.04L369.92 63.04L369.81 61.80L368.71 61.34L367.76 62.15L366.65 61.04L367.46 60.09L367.00 58.99L365.76 58.88L365.76 57.32L367.00 57.21L367.46 56.11L366.65 55.16L367.76 54.05L368.71 54.86ZM368.80 58.10a1.9 1.9 0 1 0 3.8 0a1.9 1.9 0 1 0 -3.8 0Z" fill="#fff" fill-rule="evenodd"/>
<rect x="85" y="686.3" width="13.4" height="13.4" fill="#d9d9d9"/>
<ellipse cx="91.7" cy="693.0" rx="4.5" ry="3.4" fill="none" stroke="#fff" stroke-width="1.1"/><circle cx="91.7" cy="693.0" r="1.5" fill="#fff"/>
<rect x="102" y="686.3" width="13.4" height="13.4" fill="#d9d9d9"/>
<path d="M107.81 689.30L107.92 688.06L109.48 688.06L109.59 689.30L110.69 689.76L111.64 688.95L112.75 690.06L111.94 691.01L112.40 692.11L113.64 692.22L113.64 693.78L112.40 693.89L111.94 694.99L112.75 695.94L111.64 697.05L110.69 696.24L109.59 696.70L109.48 697.94L107.92 697.94L107.81 696.70L106.71 696.24L105.76 697.05L104.65 695.94L105.46 694.99L105.00 693.89L103.76 693.78L103.76 692.22L105.00 692.11L105.46 691.01L104.65 690.06L105.76 688.95L106.71 689.76ZM106.80 693.00a1.9 1.9 0 1 0 3.8 0a1.9 1.9 0 1 0 -3.8 0Z" fill="#fff" fill-rule="evenodd"/>
<rect x="119" y="686.3" width="13.4" height="13.4" fill="#d9d9d9"/>
<path d="M121.4 688.6999999999999L130 697.3M130 688.6999999999999L121.4 697.3" stroke="#fff" stroke-width="1.5" fill="none"/>
<rect x="1761" y="66" width="14" height="14" fill="#d9d9d9"/><rect x="1778" y="66" width="14" height="14" fill="#d9d9d9"/>
<path d="M1767.3 69H1768.9V74.6H1770.8L1768.1 77.6L1765.4 74.6H1767.3Z" fill="#fff"/>
<path d="M1785 67.4L1787.3 70.4H1785.8V75.6H1787.3L1785 78.6L1782.7 75.6H1784.2V70.4H1782.7Z" fill="#fff"/>
<path d="M1828.87 895.72L1828.98 894.17L1830.82 894.17L1830.93 895.72L1832.20 896.25L1833.37 895.23L1834.67 896.53L1833.65 897.70L1834.18 898.97L1835.73 899.08L1835.73 900.92L1834.18 901.03L1833.65 902.30L1834.67 903.47L1833.37 904.77L1832.20 903.75L1830.93 904.28L1830.82 905.83L1828.98 905.83L1828.87 904.28L1827.60 903.75L1826.43 904.77L1825.13 903.47L1826.15 902.30L1825.62 901.03L1824.07 900.92L1824.07 899.08L1825.62 898.97L1826.15 897.70L1825.13 896.53L1826.43 895.23L1827.60 896.25ZM1826.90 900.00a3.0 3.0 0 1 0 6.0 0a3.0 3.0 0 1 0 -6.0 0Z" fill="#777" fill-rule="evenodd"/>
</svg>
<svg width="1851" height="912" viewBox="0 0 1851 912" style="position:absolute;left:0;top:0;pointer-events:none;will-change:transform" font-family="Liberation Sans, DejaVu Sans, sans-serif">
<text x="18.7" y="63.5" font-size="16" fill="#4d4d4d" stroke="#4d4d4d" stroke-width="0.35" font-weight="normal" textLength="37.5" lengthAdjust="spacingAndGlyphs">Cielo</text>
<text x="62.7" y="63.5" font-size="16" fill="#4d4d4d" stroke="#4d4d4d" stroke-width="0.35" font-weight="normal" textLength="22.4" lengthAdjust="spacingAndGlyphs">Blu</text>
<text x="91" y="63.5" font-size="16" fill="#4d4d4d" stroke="#4d4d4d" stroke-width="0.35" font-weight="normal" textLength="44.7" lengthAdjust="spacingAndGlyphs">Group</text>
<text x="142.8" y="63.5" font-size="16" fill="#4d4d4d" stroke="#4d4d4d" stroke-width="0.35" font-weight="normal" textLength="28.8" lengthAdjust="spacingAndGlyphs">Ltd,</text>
<text x="179" y="63.5" font-size="16" fill="#4d4d4d" stroke="#4d4d4d" stroke-width="0.35" font-weight="normal" textLength="44.9" lengthAdjust="spacingAndGlyphs">Israel,</text>
<text x="231.3" y="63.5" font-size="16" fill="#4d4d4d" stroke="#4d4d4d" stroke-width="0.35" font-weight="normal" textLength="22.3" lengthAdjust="spacingAndGlyphs">60,</text>
<text x="260" y="63.5" font-size="16" fill="#4d4d4d" stroke="#4d4d4d" stroke-width="0.35" font-weight="normal" textLength="37.0" lengthAdjust="spacingAndGlyphs">אביב</text>
<text x="303.3" y="63.5" font-size="16" fill="#4d4d4d" stroke="#4d4d4d" stroke-width="0.35" font-weight="normal" textLength="21.4" lengthAdjust="spacingAndGlyphs">תל</text>
<text x="386.5" y="63.4" font-size="14.5" fill="#555" stroke="#555" stroke-width="0.2" font-weight="normal" textLength="9.0" lengthAdjust="spacingAndGlyphs">O</text>
<text x="398.5" y="63.4" font-size="14.5" fill="#6e1c1c" stroke="#6e1c1c" stroke-width="0.25" font-weight="normal" textLength="36.0" lengthAdjust="spacingAndGlyphs">474.0</text>
<text x="445" y="63.4" font-size="14.5" fill="#555" stroke="#555" stroke-width="0.2" font-weight="normal" textLength="9.0" lengthAdjust="spacingAndGlyphs">H</text>
<text x="456.5" y="63.4" font-size="14.5" fill="#6e1c1c" stroke="#6e1c1c" stroke-width="0.25" font-weight="normal" textLength="35.5" lengthAdjust="spacingAndGlyphs">483.5</text>
<text x="503" y="63.4" font-size="14.5" fill="#555" stroke="#555" stroke-width="0.2" font-weight="normal" textLength="6.5" lengthAdjust="spacingAndGlyphs">L</text>
<text x="512" y="63.4" font-size="14.5" fill="#6e1c1c" stroke="#6e1c1c" stroke-width="0.25" font-weight="normal" textLength="36.0" lengthAdjust="spacingAndGlyphs">465.0</text>
<text x="558" y="63.4" font-size="14.5" fill="#555" stroke="#555" stroke-width="0.2" font-weight="normal" textLength="8.0" lengthAdjust="spacingAndGlyphs">C</text>
<text x="568.5" y="63.4" font-size="14.5" fill="#6e1c1c" stroke="#6e1c1c" stroke-width="0.25" font-weight="normal" textLength="36.0" lengthAdjust="spacingAndGlyphs">472.0</text>
<text x="1" y="23" font-size="13.5" fill="#444" stroke="#444" stroke-width="0.3" font-weight="normal" textLength="27.8" lengthAdjust="spacingAndGlyphs">CILO</text>
<text x="105.5" y="21.3" font-size="11" fill="#444" stroke="#444" stroke-width="0.3" font-weight="normal" textLength="4.7" lengthAdjust="spacingAndGlyphs">5</text>
<text x="137.6" y="21.3" font-size="11" fill="#2a9fd8" stroke="#2a9fd8" stroke-width="0.3" font-weight="normal" textLength="11.7" lengthAdjust="spacingAndGlyphs">1h</text>
<text x="175.8" y="21.3" font-size="11" fill="#444" stroke="#444" stroke-width="0.3" font-weight="normal" textLength="11.9" lengthAdjust="spacingAndGlyphs">1D</text>
<text x="214" y="21.3" font-size="11" fill="#444" stroke="#444" stroke-width="0.3" font-weight="normal" textLength="13.8" lengthAdjust="spacingAndGlyphs">1M</text>
<text x="253.3" y="21.3" font-size="11" fill="#444" stroke="#444" stroke-width="0.3" font-weight="normal" textLength="12.3" lengthAdjust="spacingAndGlyphs">1D</text>
<text x="-1" y="696.7" font-size="12" fill="#555" stroke="#555" stroke-width="0.25" font-weight="normal" textLength="64.0" lengthAdjust="spacingAndGlyphs">Volume (20)</text>
<text x="141.5" y="696.7" font-size="12" fill="#ff6359" stroke="#ff6359" stroke-width="0.25" font-weight="normal" textLength="42.5" lengthAdjust="spacingAndGlyphs">39.402K</text>
<text x="194" y="696.7" font-size="12" fill="#111" stroke="#111" stroke-width="0.25" font-weight="normal" textLength="43.0" lengthAdjust="spacingAndGlyphs">62.044K</text>
<g font-family="DejaVu Sans, Liberation Sans, sans-serif"><text stroke="#0a0a0a" stroke-width="0.7" x="7.3" y="660.8" font-size="21" fill="#0a0a0a" font-weight="bold" textLength="89.0" lengthAdjust="spacingAndGlyphs">Investing</text></g>
<text x="98" y="660.8" font-size="14.8" fill="#666" font-weight="normal" textLength="27.7" lengthAdjust="spacingAndGlyphs">.com</text>
<rect x="66.3" y="642.5" width="5.2" height="5.6" fill="#fff"/>
<path d="M66.9 647.6C66.6 645.6 68.4 643.6 70.9 643.2C71.6 645.2 70.4 647.3 68.3 647.8Z" fill="#ff9a00"/>
<text x="8" y="904" font-size="11.5" fill="#8b8b99" stroke="#8b8b99" stroke-width="0.3" font-weight="normal" textLength="18.0" lengthAdjust="spacingAndGlyphs">10y</text>
<text x="53" y="904" font-size="11.5" fill="#8b8b99" stroke="#8b8b99" stroke-width="0.3" font-weight="normal" textLength="11.0" lengthAdjust="spacingAndGlyphs">1y</text>
<text x="91" y="904" font-size="11.5" fill="#8b8b99" stroke="#8b8b99" stroke-width="0.3" font-weight="normal" textLength="15.0" lengthAdjust="spacingAndGlyphs">1m</text>
<text x="132" y="904" font-size="11.5" fill="#8b8b99" stroke="#8b8b99" stroke-width="0.3" font-weight="normal" textLength="13.0" lengthAdjust="spacingAndGlyphs">7d</text>
<text x="172" y="904" font-size="11.5" fill="#8b8b99" stroke="#8b8b99" stroke-width="0.3" font-weight="normal" textLength="12.0" lengthAdjust="spacingAndGlyphs">1d</text>
<text x="210" y="904" font-size="11.5" fill="#8b8b99" stroke="#8b8b99" stroke-width="0.3" font-weight="normal" textLength="38.0" lengthAdjust="spacingAndGlyphs">Go to...</text>
<text x="1584.4" y="904" font-size="11.5" fill="#8b8b99" stroke="#8b8b99" stroke-width="0.3" font-weight="normal" textLength="44.8" lengthAdjust="spacingAndGlyphs">10:36:09</text>
<text x="1635" y="904" font-size="11.5" fill="#8b8b99" stroke="#8b8b99" stroke-width="0.3" font-weight="normal" textLength="38.2" lengthAdjust="spacingAndGlyphs">(UTC+3)</text>
<text x="1699" y="904" font-size="11.5" fill="#8b8b99" stroke="#8b8b99" stroke-width="0.3" font-weight="normal" textLength="8.2" lengthAdjust="spacingAndGlyphs">%</text>
<text x="1733.2" y="904" font-size="11.5" fill="#8b8b99" stroke="#8b8b99" stroke-width="0.3" font-weight="normal" textLength="14.8" lengthAdjust="spacingAndGlyphs">log</text>
<text x="1774.2" y="904" font-size="11.5" fill="#4ab5e8" stroke="#4ab5e8" stroke-width="0.3" font-weight="normal" textLength="23.1" lengthAdjust="spacingAndGlyphs">auto</text>
<text x="733.3" y="22.2" font-size="12" fill="#fff" font-weight="bold" textLength="25.4" lengthAdjust="spacingAndGlyphs">קנייה</text>
<text x="821" y="22.2" font-size="12" fill="#fff" font-weight="bold" textLength="30.3" lengthAdjust="spacingAndGlyphs">מכירה</text>
<rect x="1457" y="870" width="110" height="19" fill="#545454"/><rect x="1512" y="871" width="1" height="3" fill="#fff"/>
<text x="1461" y="884.8" font-size="11" fill="#fff" font-weight="bold" textLength="101.7" lengthAdjust="spacingAndGlyphs">2025-07-13 19:45:00</text>
</svg>
</body></html>
